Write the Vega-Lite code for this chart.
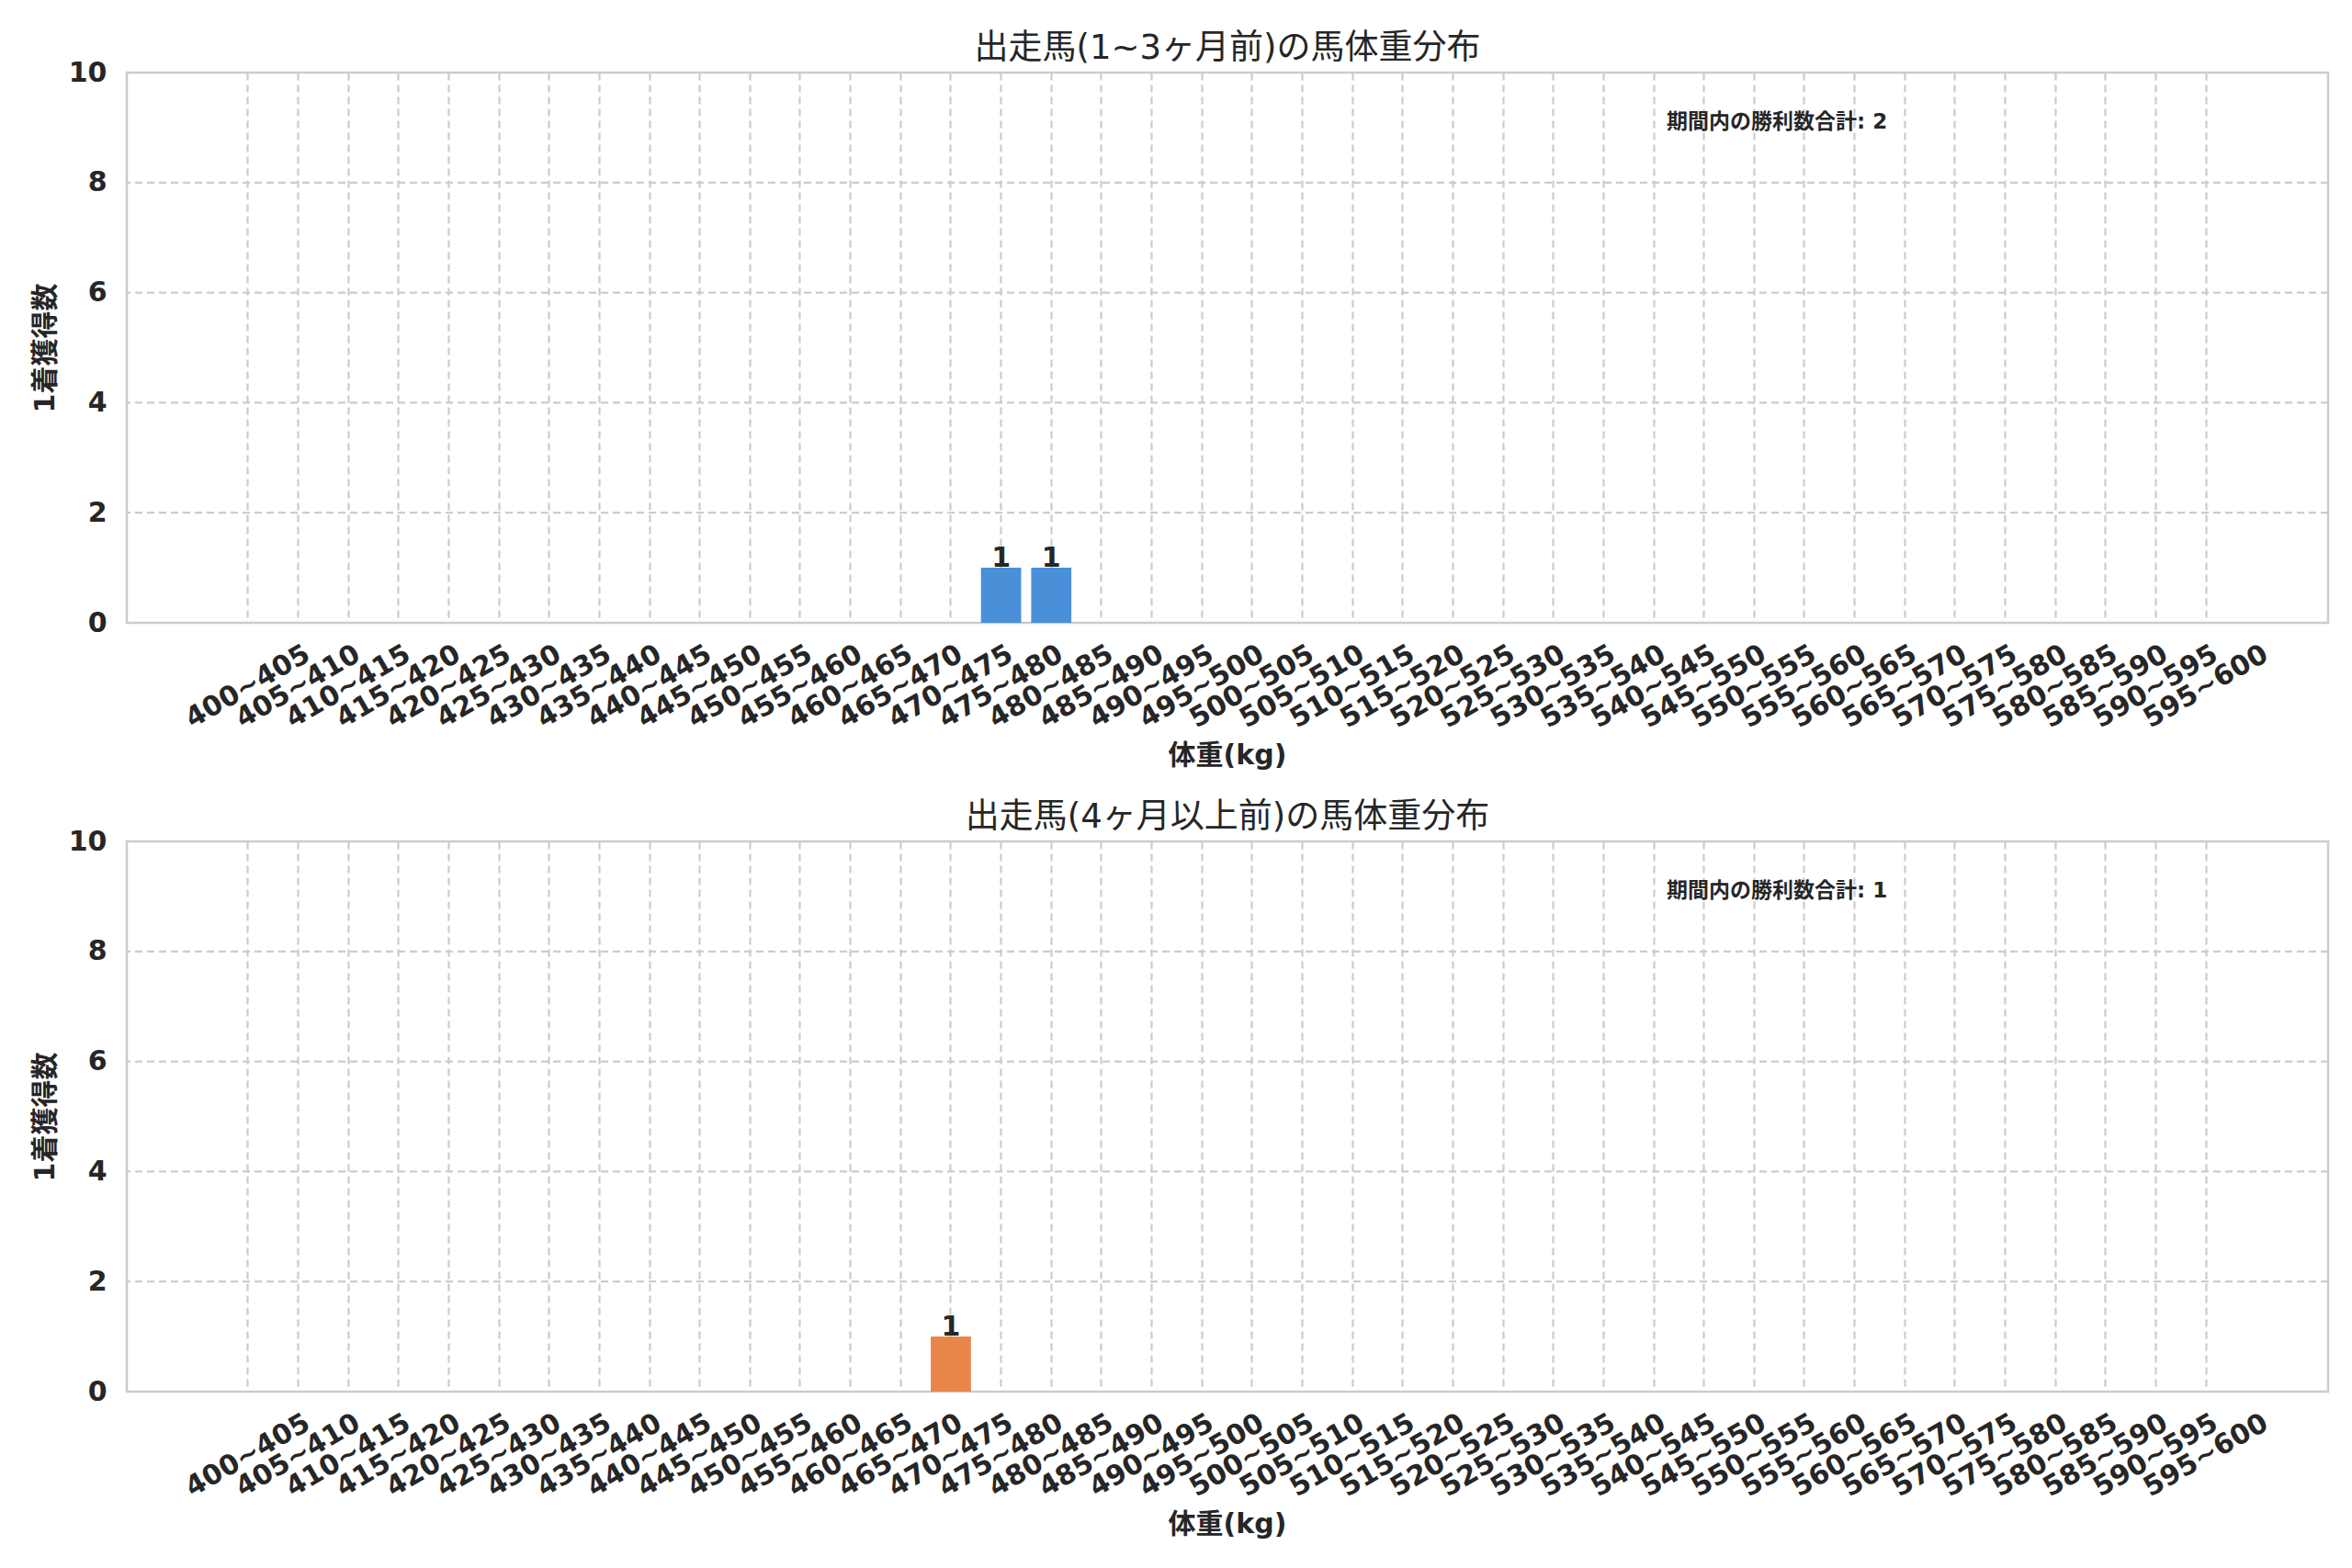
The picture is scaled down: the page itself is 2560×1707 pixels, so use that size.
{
  "$schema": "https://vega.github.io/schema/vega-lite/v6.json",
  "background": "white",
  "padding": {"left": 33, "top": 32, "right": 30, "bottom": 10},
  "spacing": 30,
  "datasets": {
    "young": [
      {"range": "400~405", "count": 0}, {"range": "405~410", "count": 0}, {"range": "410~415", "count": 0}, {"range": "415~420", "count": 0},
      {"range": "420~425", "count": 0}, {"range": "425~430", "count": 0}, {"range": "430~435", "count": 0}, {"range": "435~440", "count": 0},
      {"range": "440~445", "count": 0}, {"range": "445~450", "count": 0}, {"range": "450~455", "count": 0}, {"range": "455~460", "count": 0},
      {"range": "460~465", "count": 0}, {"range": "465~470", "count": 0}, {"range": "470~475", "count": 0}, {"range": "475~480", "count": 1},
      {"range": "480~485", "count": 1}, {"range": "485~490", "count": 0}, {"range": "490~495", "count": 0}, {"range": "495~500", "count": 0},
      {"range": "500~505", "count": 0}, {"range": "505~510", "count": 0}, {"range": "510~515", "count": 0}, {"range": "515~520", "count": 0},
      {"range": "520~525", "count": 0}, {"range": "525~530", "count": 0}, {"range": "530~535", "count": 0}, {"range": "535~540", "count": 0},
      {"range": "540~545", "count": 0}, {"range": "545~550", "count": 0}, {"range": "550~555", "count": 0}, {"range": "555~560", "count": 0},
      {"range": "560~565", "count": 0}, {"range": "565~570", "count": 0}, {"range": "570~575", "count": 0}, {"range": "575~580", "count": 0},
      {"range": "580~585", "count": 0}, {"range": "585~590", "count": 0}, {"range": "590~595", "count": 0}, {"range": "595~600", "count": 0}
    ],
    "old": [
      {"range": "400~405", "count": 0}, {"range": "405~410", "count": 0}, {"range": "410~415", "count": 0}, {"range": "415~420", "count": 0},
      {"range": "420~425", "count": 0}, {"range": "425~430", "count": 0}, {"range": "430~435", "count": 0}, {"range": "435~440", "count": 0},
      {"range": "440~445", "count": 0}, {"range": "445~450", "count": 0}, {"range": "450~455", "count": 0}, {"range": "455~460", "count": 0},
      {"range": "460~465", "count": 0}, {"range": "465~470", "count": 0}, {"range": "470~475", "count": 1}, {"range": "475~480", "count": 0},
      {"range": "480~485", "count": 0}, {"range": "485~490", "count": 0}, {"range": "490~495", "count": 0}, {"range": "495~500", "count": 0},
      {"range": "500~505", "count": 0}, {"range": "505~510", "count": 0}, {"range": "510~515", "count": 0}, {"range": "515~520", "count": 0},
      {"range": "520~525", "count": 0}, {"range": "525~530", "count": 0}, {"range": "530~535", "count": 0}, {"range": "535~540", "count": 0},
      {"range": "540~545", "count": 0}, {"range": "545~550", "count": 0}, {"range": "550~555", "count": 0}, {"range": "555~560", "count": 0},
      {"range": "560~565", "count": 0}, {"range": "565~570", "count": 0}, {"range": "570~575", "count": 0}, {"range": "575~580", "count": 0},
      {"range": "580~585", "count": 0}, {"range": "585~590", "count": 0}, {"range": "590~595", "count": 0}, {"range": "595~600", "count": 0}
    ],
    "grid": [{"level": 2}, {"level": 4}, {"level": 6}, {"level": 8}],
    "noteYoung": [{"range": "540~545", "y": 9.1, "label": "期間内の勝利数合計: 2"}],
    "noteOld": [{"range": "540~545", "y": 9.1, "label": "期間内の勝利数合計: 1"}]
  },
  "vconcat": [
    {
      "width": 2396,
      "height": 599,
      "title": {"text": "出走馬(1~3ヶ月前)の馬体重分布"},
      "layer": [
        {
          "data": {"name": "grid"},
          "mark": {"type": "rule", "color": "#cccccc", "strokeDash": [8, 5], "strokeWidth": 2.2},
          "encoding": {
            "y": {"field": "level", "type": "quantitative", "scale": {"domain": [0, 10]}, "axis": {"title": "1着獲得数", "values": [0, 2, 4, 6, 8, 10], "format": "d", "grid": false}}
          }
        },
        {
          "data": {"name": "young"},
          "mark": {"type": "bar", "color": "#4a90d9"},
          "encoding": {
            "x": {"field": "range", "type": "nominal", "sort": null, "scale": {"paddingInner": 0.2, "paddingOuter": 0, "range": [110, 2285]}, "axis": {"title": "体重(kg)"}},
            "y": {"field": "count", "type": "quantitative", "scale": {"domain": [0, 10]}, "axis": {"title": "1着獲得数", "values": [0, 2, 4, 6, 8, 10], "format": "d", "grid": false}}
          }
        },
        {
          "data": {"name": "young"},
          "transform": [{"filter": "datum.count > 0"}],
          "mark": {"type": "text", "baseline": "alphabetic", "dy": -1, "fontSize": 30, "fontWeight": "bold", "color": "#262626"},
          "encoding": {
            "x": {"field": "range", "type": "nominal", "sort": null},
            "y": {"field": "count", "type": "quantitative"},
            "text": {"field": "count", "type": "quantitative"}
          }
        },
        {
          "data": {"name": "noteYoung"},
          "mark": {"type": "text", "align": "left", "baseline": "middle", "fontSize": 23, "fontWeight": "bold", "color": "#262626"},
          "encoding": {
            "x": {"field": "range", "type": "nominal", "sort": null, "bandPosition": 0.82},
            "y": {"field": "y", "type": "quantitative"},
            "text": {"field": "label", "type": "nominal"}
          }
        }
      ]
    },
    {
      "width": 2396,
      "height": 599,
      "title": {"text": "出走馬(4ヶ月以上前)の馬体重分布"},
      "layer": [
        {
          "data": {"name": "grid"},
          "mark": {"type": "rule", "color": "#cccccc", "strokeDash": [8, 5], "strokeWidth": 2.2},
          "encoding": {
            "y": {"field": "level", "type": "quantitative", "scale": {"domain": [0, 10]}, "axis": {"title": "1着獲得数", "values": [0, 2, 4, 6, 8, 10], "format": "d", "grid": false}}
          }
        },
        {
          "data": {"name": "old"},
          "mark": {"type": "bar", "color": "#e8864a"},
          "encoding": {
            "x": {"field": "range", "type": "nominal", "sort": null, "scale": {"paddingInner": 0.2, "paddingOuter": 0, "range": [110, 2285]}, "axis": {"title": "体重(kg)"}},
            "y": {"field": "count", "type": "quantitative", "scale": {"domain": [0, 10]}, "axis": {"title": "1着獲得数", "values": [0, 2, 4, 6, 8, 10], "format": "d", "grid": false}}
          }
        },
        {
          "data": {"name": "old"},
          "transform": [{"filter": "datum.count > 0"}],
          "mark": {"type": "text", "baseline": "alphabetic", "dy": -1, "fontSize": 30, "fontWeight": "bold", "color": "#262626"},
          "encoding": {
            "x": {"field": "range", "type": "nominal", "sort": null},
            "y": {"field": "count", "type": "quantitative"},
            "text": {"field": "count", "type": "quantitative"}
          }
        },
        {
          "data": {"name": "noteOld"},
          "mark": {"type": "text", "align": "left", "baseline": "middle", "fontSize": 23, "fontWeight": "bold", "color": "#262626"},
          "encoding": {
            "x": {"field": "range", "type": "nominal", "sort": null, "bandPosition": 0.82},
            "y": {"field": "y", "type": "quantitative"},
            "text": {"field": "label", "type": "nominal"}
          }
        }
      ]
    }
  ],
  "resolve": {"scale": {"x": "independent", "y": "independent"}},
  "config": {
    "font": "DejaVu Sans, Noto Sans CJK JP, sans-serif",
    "view": {"stroke": "#cccccc", "strokeWidth": 2.5},
    "title": {"fontSize": 37, "fontWeight": "normal", "color": "#262626", "offset": -8, "anchor": "middle", "font": "DejaVu Sans, Noto Sans CJK JP, sans-serif"},
    "axis": {
      "domain": false,
      "ticks": false,
      "grid": true,
      "gridColor": "#cccccc",
      "gridDash": [8, 5],
      "gridWidth": 2.2,
      "labelFontSize": 30,
      "labelFontWeight": "bold",
      "labelColor": "#262626",
      "titleFontSize": 30,
      "titleFontWeight": "bold",
      "titleColor": "#262626",
      "labelFont": "DejaVu Sans, Noto Sans CJK JP, sans-serif",
      "titleFont": "DejaVu Sans, Noto Sans CJK JP, sans-serif"
    },
    "axisX": {
      "bandPosition": 0.5,
      "labelAngle": -30,
      "labelAlign": "center",
      "labelBaseline": "middle",
      "labelPadding": 69,
      "labelOverlap": false,
      "labelBound": false,
      "labelFlush": false,
      "titlePadding": 10
    },
    "axisY": {
      "labelPadding": 22,
      "titlePadding": 10
    }
  }
}
